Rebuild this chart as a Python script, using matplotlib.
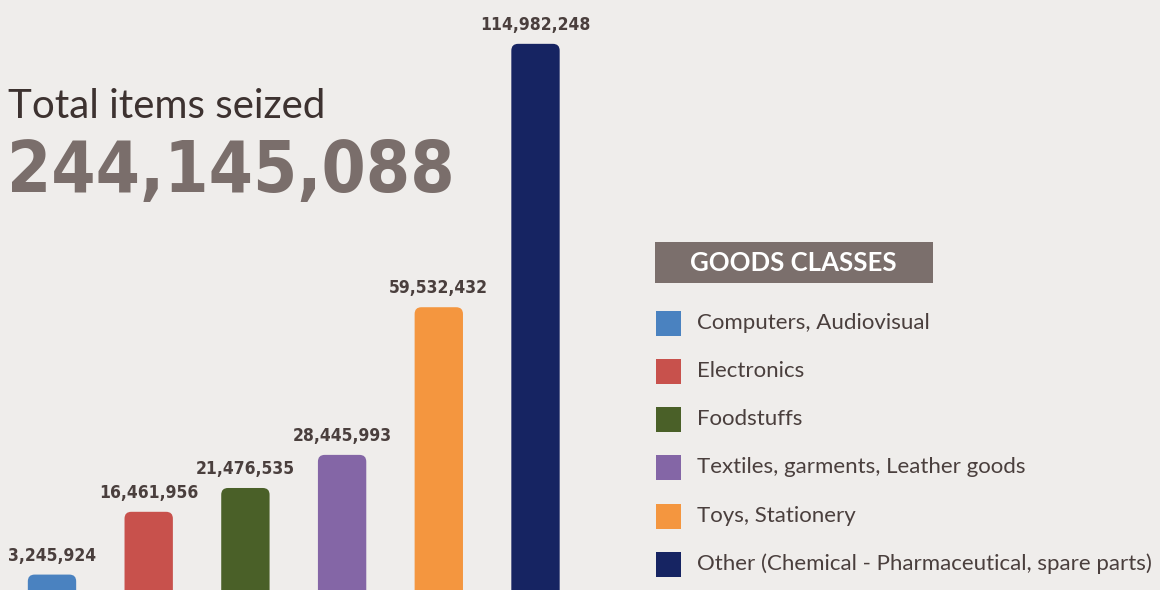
import matplotlib
matplotlib.use("Agg")
import matplotlib.pyplot as plt
from matplotlib.patches import FancyBboxPatch, Rectangle

categories = ["Computers, Audiovisual", "Electronics", "Foodstuffs",
              "Textiles, garments, Leather goods", "Toys, Stationery",
              "Other (Chemical - Pharmaceutical, spare parts)"]
values = [3245924, 16461956, 21476535, 28445993, 59532432, 114982248]
colors = ["#4A82C0", "#C8514C", "#4A6028", "#8466A6", "#F4963F", "#162462"]
total_label = "244,145,088"

BG = "#EFEDEB"
W, H = 1160, 590
fig = plt.figure(figsize=(W / 100, H / 100), dpi=100, facecolor=BG)
ax = fig.add_axes([0, 0, 1, 1])
ax.set_facecolor(BG)
ax.axis("off")

px_x = 96.7          # px per category
px_y = 4.75e-6       # px per item
x0 = 52
ax.set_xlim(-x0 / px_x, (W - x0) / px_x)
ax.set_ylim(0, H / px_y)

xs = list(range(len(values)))
bars = ax.bar(xs, values, width=0.5, color=colors)
aspect = px_x / px_y
for b, c, v in zip(bars, colors, values):
    b.set_visible(False)
    x, w, h = b.get_x(), b.get_width(), b.get_height()
    p = FancyBboxPatch((x, -20e6), w, h + 20e6,
                       boxstyle="round,pad=0,rounding_size=0.07",
                       mutation_aspect=aspect, facecolor=c, edgecolor="none")
    ax.add_patch(p)
    ax.annotate(f"{v:,}", (x + w / 2, h), xytext=(0, 7), textcoords="offset points",
                ha="center", va="bottom", fontsize=12.5, fontweight="bold",
                family="DejaVu Sans", fontstretch="condensed", color="#4A3F3D")

# Title
fig.text(8 / W, 1 - 118 / H, "Total items seized", fontsize=29, family="Lato",
         color="#3D3230", ha="left", va="baseline")
fig.text(7 / W, 1 - 192 / H, total_label, fontsize=51, fontweight="bold",
         family="DejaVu Sans", fontstretch="condensed",
         color="#7A6E6B", ha="left", va="baseline")

# Legend header
fig.patches.append(Rectangle((655 / W, 1 - 283 / H), 278 / W, 41 / H,
                             transform=fig.transFigure, facecolor="#7B6F6C",
                             edgecolor="none"))
fig.text(793 / W, 1 - 263 / H, "GOODS CLASSES", fontsize=18.5, fontweight="bold",
         family="Lato", color="white", ha="center", va="center")

ys = [323, 371, 419, 467, 516, 564]
for cat, c, y in zip(categories, colors, ys):
    fig.patches.append(Rectangle((656 / W, 1 - (y + 12.5) / H), 25 / W, 25 / H,
                                 transform=fig.transFigure, facecolor=c,
                                 edgecolor="none"))
    fig.text(697 / W, 1 - y / H, cat, fontsize=16, family="Lato",
             color="#4A3F3D", ha="left", va="center")

fig.savefig("out.png", dpi=100, facecolor=BG)
